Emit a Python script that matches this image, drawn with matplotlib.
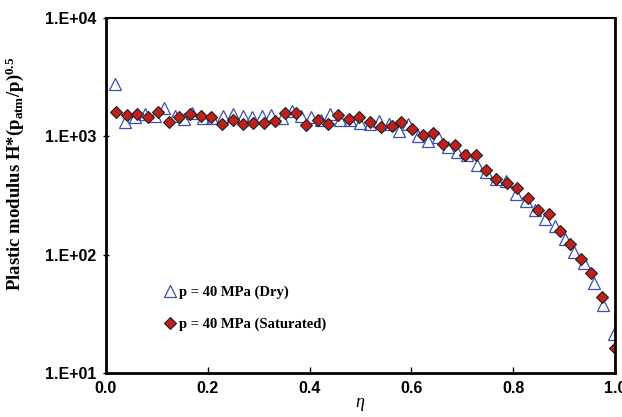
import numpy as np
import matplotlib
matplotlib.use("Agg")
import matplotlib.pyplot as plt

plt.rcParams["mathtext.fontset"] = "custom"
plt.rcParams["mathtext.rm"] = "Liberation Serif:bold"
plt.rcParams["mathtext.bf"] = "Liberation Serif:bold"
plt.rcParams["mathtext.it"] = "Liberation Serif:italic"

# Saturated series
eta_sat = [0.0195, 0.041, 0.062, 0.082, 0.102, 0.125, 0.144, 0.166, 0.187, 0.207,
           0.229, 0.250, 0.270, 0.290, 0.311, 0.332, 0.352, 0.374, 0.394, 0.416,
           0.436, 0.456, 0.477, 0.498, 0.519, 0.540, 0.561, 0.580, 0.601, 0.622,
           0.643, 0.663, 0.685, 0.706, 0.726, 0.746, 0.767, 0.788, 0.807, 0.828,
           0.849, 0.870, 0.891, 0.912, 0.932, 0.953, 0.974, 0.999]
H_sat = [1596, 1504, 1535, 1449, 1596, 1330, 1449, 1556, 1486, 1449,
         1279, 1383, 1270, 1297, 1297, 1357, 1563, 1563, 1239, 1383,
         1279, 1504, 1410, 1456, 1330, 1191, 1216, 1330, 1153, 1019,
         1067, 867, 845, 700, 691, 522, 438, 403, 366, 301,
         237, 218, 158, 123, 91.9, 70, 43.6, 16.1]

# Dry series
eta_dry = [0.019, 0.037, 0.058, 0.077, 0.097, 0.115, 0.135, 0.154, 0.170, 0.190,
           0.209, 0.230, 0.250, 0.269, 0.288, 0.307, 0.325, 0.346, 0.366, 0.384,
           0.403, 0.422, 0.440, 0.460, 0.480, 0.499, 0.519, 0.537, 0.557, 0.576,
           0.594, 0.613, 0.633, 0.652, 0.671, 0.690, 0.709, 0.728, 0.747, 0.766,
           0.786, 0.805, 0.825, 0.842, 0.863, 0.881, 0.901, 0.920, 0.939, 0.959,
           0.977, 0.998]
H_dry = [2767, 1312, 1456, 1545, 1496, 1735, 1475, 1410, 1574, 1429,
         1429, 1496, 1545, 1475, 1456, 1496, 1525, 1429, 1625, 1496,
         1456, 1365, 1545, 1383, 1365, 1297, 1270, 1339, 1279, 1102,
         1279, 1000, 908, 982, 807, 733, 700, 569, 500, 431,
         417, 326, 282, 236, 198, 174, 134, 105, 85, 57.7,
         37.3, 21.4]

xticks = [0.0, 0.2, 0.4, 0.6, 0.8, 1.0]
xticklabels = ["0.0", "0.2", "0.4", "0.6", "0.8", "1.0"]
yticks = [10, 100, 1000, 10000]
yticklabels = ["1.E+01", "1.E+02", "1.E+03", "1.E+04"]

fig = plt.figure(figsize=(6.22, 4.17), dpi=100)
ax = fig.add_axes([0.170, 0.106, 0.819, 0.851])

ax.plot(eta_dry, H_dry, linestyle="none", marker="^", markersize=8,
        markerfacecolor="none", markeredgecolor="#3a4fb0", markeredgewidth=0.9,
        label="p = 40 MPa (Dry)")
ax.plot(eta_sat, H_sat, linestyle="none", marker="D", markersize=6,
        markerfacecolor="#c0201c", markeredgecolor="#222222", markeredgewidth=0.8,
        label="p = 40 MPa (Saturated)")

ax.set_yscale("log")
ax.set_xlim(0, 1.0)
ax.set_ylim(10, 10000)
ax.set_xticks(xticks)
ax.set_xticklabels(xticklabels)
ax.set_yticks(yticks)
ax.set_yticklabels(yticklabels)
ax.yaxis.set_minor_locator(matplotlib.ticker.NullLocator())

for lab in ax.get_xticklabels() + ax.get_yticklabels():
    lab.set_fontfamily("Liberation Sans")
    lab.set_fontweight("bold")
    lab.set_fontsize(11.5)

ax.tick_params(axis="x", direction="in", length=4, width=1, pad=6)
ax.tick_params(axis="y", direction="inout", length=5, width=1, pad=4)

for s in ax.spines.values():
    s.set_linewidth(2)
    s.set_color("black")
ax.spines["top"].set_linewidth(1.5)

ax.set_xlabel(r"$\eta$", fontsize=13, family="Liberation Serif", labelpad=0)
ax.set_ylabel(r"Plastic modulus H*(p$_{\mathrm{atm}}$/p)$^{\mathrm{0.5}}$",
              fontsize=13.5, family="Liberation Serif", fontweight="bold")
ax.yaxis.set_label_coords(-0.156, 0.56)

leg = ax.legend(loc="lower left", bbox_to_anchor=(0.1, 0.1), frameon=False,
                prop={"family": "Liberation Serif", "weight": "bold", "size": 10.5},
                handletextpad=0.1, handlelength=1.0, labelspacing=1.3, borderaxespad=0)

fig.savefig("out.png", dpi=100)
